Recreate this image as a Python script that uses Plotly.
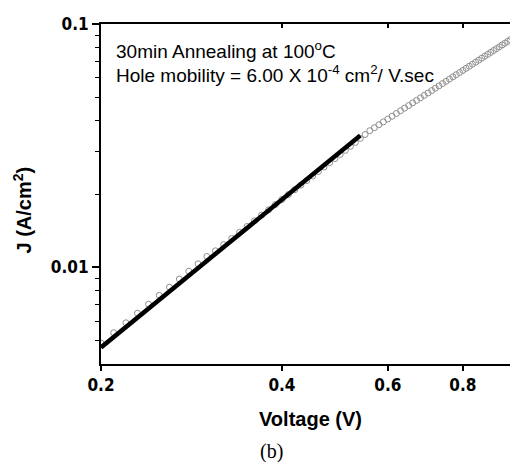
import plotly.graph_objects as go
import math

# Measured data (open circles)
voltage = [0.20, 0.21, 0.22, 0.23, 0.24, 0.25, 0.26, 0.27, 0.28, 0.29,
           0.30, 0.31, 0.32, 0.33, 0.34, 0.35, 0.36, 0.37, 0.38, 0.39,
           0.40, 0.41, 0.42, 0.43, 0.44, 0.45, 0.46, 0.47, 0.48, 0.49,
           0.50, 0.51, 0.52, 0.53, 0.54, 0.55, 0.56, 0.57, 0.58, 0.59,
           0.60, 0.61, 0.62, 0.63, 0.64, 0.65, 0.66, 0.67, 0.68, 0.69,
           0.70, 0.71, 0.72, 0.73, 0.74, 0.75, 0.76, 0.77, 0.78, 0.79,
           0.80, 0.81, 0.82, 0.83, 0.84, 0.85, 0.86, 0.87, 0.88, 0.89,
           0.90, 0.91, 0.92, 0.93, 0.94, 0.95, 0.96, 0.97, 0.98, 0.99, 1.00]
current_density = [0.00488, 0.00538, 0.00591, 0.00647, 0.00704, 0.00766, 0.00828, 0.00894, 0.00963, 0.01033,
                   0.01107, 0.01168, 0.01239, 0.01313, 0.01392, 0.01471, 0.01552, 0.01638, 0.01721, 0.01809,
                   0.01898, 0.01989, 0.02082, 0.02175, 0.02271, 0.02372, 0.02474, 0.02582, 0.02689, 0.02797,
                   0.02908, 0.03023, 0.03141, 0.03261, 0.03386, 0.03514, 0.03642, 0.03747, 0.03853, 0.03960,
                   0.04068, 0.04177, 0.04287, 0.04398, 0.04510, 0.04623, 0.04738, 0.04853, 0.04969, 0.05087,
                   0.05205, 0.05325, 0.05446, 0.05567, 0.05690, 0.05813, 0.05938, 0.06063, 0.06189, 0.06317,
                   0.06445, 0.06575, 0.06705, 0.06836, 0.06968, 0.07101, 0.07236, 0.07371, 0.07507, 0.07644,
                   0.07782, 0.07921, 0.08060, 0.08201, 0.08343, 0.08485, 0.08629, 0.08773, 0.08918, 0.09064, 0.09211]

# SCLC fit line (thick black)
fit_voltage = [0.20, 0.54]
fit_current = [0.00468, 0.0348]

# Axis ticks
x_tickvals = [0.2, 0.4, 0.6, 0.8]
x_ticktext = ["0.2", "0.4", "0.6", "0.8"]
y_tickvals = [0.01, 0.1]
y_ticktext = ["0.01", "0.1"]
y_minor = [0.005, 0.006, 0.007, 0.008, 0.009, 0.02, 0.03, 0.04, 0.05, 0.06, 0.07, 0.08, 0.09]

x_range = [0.2, 0.988]
y_range = [0.004, 0.1]

xr = [math.log10(v) for v in x_range]
yr = [math.log10(v) for v in y_range]

# page body has an 8px margin: figure occupies screen pixels 8..518 x 8..462
OFF = 8
W, H = 518 - OFF, 462 - OFF
L, R, T, B = 101 - OFF, 0, 24 - OFF, 98
PLOT_L, PLOT_T, PLOT_B = 101, 24, 364
PW, PH = 417, PLOT_B - PLOT_T


def px(x):
    return (x - PLOT_L) / PW


def py(y):
    return (PLOT_B - y) / PH


TICKFONT = dict(family="Liberation Sans Narrow, DejaVu Sans Condensed, Liberation Sans, Arial",
                size=17, color="black", weight="bold")

fig = go.Figure()
fig.add_trace(go.Scatter(
    x=voltage, y=current_density, mode="markers",
    marker=dict(symbol="circle-open", size=6, color="#8f8f8f", line=dict(width=1, color="#8f8f8f")),
    showlegend=False, hoverinfo="skip"))
fig.add_trace(go.Scatter(
    x=fit_voltage, y=fit_current, mode="lines",
    line=dict(color="black", width=4.5), showlegend=False, hoverinfo="skip"))
# dummy trace to activate the top/right mirror axes
fig.add_trace(go.Scatter(x=[], y=[], xaxis="x2", yaxis="y2", showlegend=False))

fig.update_layout(
    width=W, height=H,
    margin=dict(l=L, r=R, t=T, b=B),
    paper_bgcolor="white", plot_bgcolor="white",
    xaxis=dict(type="log", range=xr, showgrid=False, zeroline=False,
               showline=True, linecolor="black", linewidth=2,
               ticks="outside", ticklen=5, tickwidth=1.5, tickcolor="black",
               tickvals=x_tickvals, ticktext=x_ticktext, tickfont=TICKFONT,
               automargin=False),
    yaxis=dict(type="log", range=yr, showgrid=False, zeroline=False,
               showline=True, linecolor="black", linewidth=2,
               ticks="outside", ticklen=7, tickwidth=1.5, tickcolor="black",
               tickvals=y_tickvals, ticktext=y_ticktext, tickfont=TICKFONT,
               minor=dict(tickvals=y_minor, ticks="outside", ticklen=4, tickwidth=1.2, tickcolor="black",
                          showgrid=False),
               automargin=False),
    xaxis2=dict(type="log", range=xr, overlaying="x", side="top", anchor="y2",
                showgrid=False, zeroline=False, showline=True, linecolor="black", linewidth=1.8,
                ticks="inside", ticklen=4, tickwidth=1.5, tickcolor="black",
                tickvals=x_tickvals, showticklabels=False, automargin=False),
    yaxis2=dict(type="log", range=yr, overlaying="y", side="right", anchor="x2",
                showgrid=False, zeroline=False, showline=False,
                ticks="inside", ticklen=6, tickwidth=1.5, tickcolor="black",
                tickvals=y_tickvals, showticklabels=False,
                minor=dict(tickvals=y_minor, ticks="inside", ticklen=3, tickwidth=1.2, tickcolor="black",
                           showgrid=False),
                automargin=False),
)

ANN = dict(family="Liberation Sans, Arial", size=19, color="black")
fig.add_annotation(text="30min Annealing at 100<sup>o</sup>C", xref="paper", yref="paper",
                   x=px(114), y=py(50), xanchor="left", yanchor="middle", showarrow=False, font=ANN)
fig.add_annotation(text="Hole mobility = 6.00 X 10<sup>-4</sup> cm<sup>2</sup>/ V.sec", xref="paper", yref="paper",
                   x=px(114), y=py(74), xanchor="left", yanchor="middle", showarrow=False, font=ANN)
fig.add_annotation(text="<b>Voltage (V)</b>", xref="paper", yref="paper",
                   x=px(310.5), y=py(419), xanchor="center", yanchor="middle", showarrow=False,
                   font=dict(family="Liberation Sans, Arial", size=20, color="black"))
fig.add_annotation(text="<b>J (A/cm<sup>2</sup>)</b>", xref="paper", yref="paper", textangle=-90,
                   x=px(21.5), y=py(210), xanchor="center", yanchor="middle", showarrow=False,
                   font=dict(family="Liberation Sans, Arial", size=20, color="black"))
fig.add_annotation(text="(b)", xref="paper", yref="paper",
                   x=px(271.5), y=py(451), xanchor="center", yanchor="middle", showarrow=False,
                   font=dict(family="Liberation Serif, Times New Roman, serif", size=20, color="black"))

fig.write_html("out.html")
